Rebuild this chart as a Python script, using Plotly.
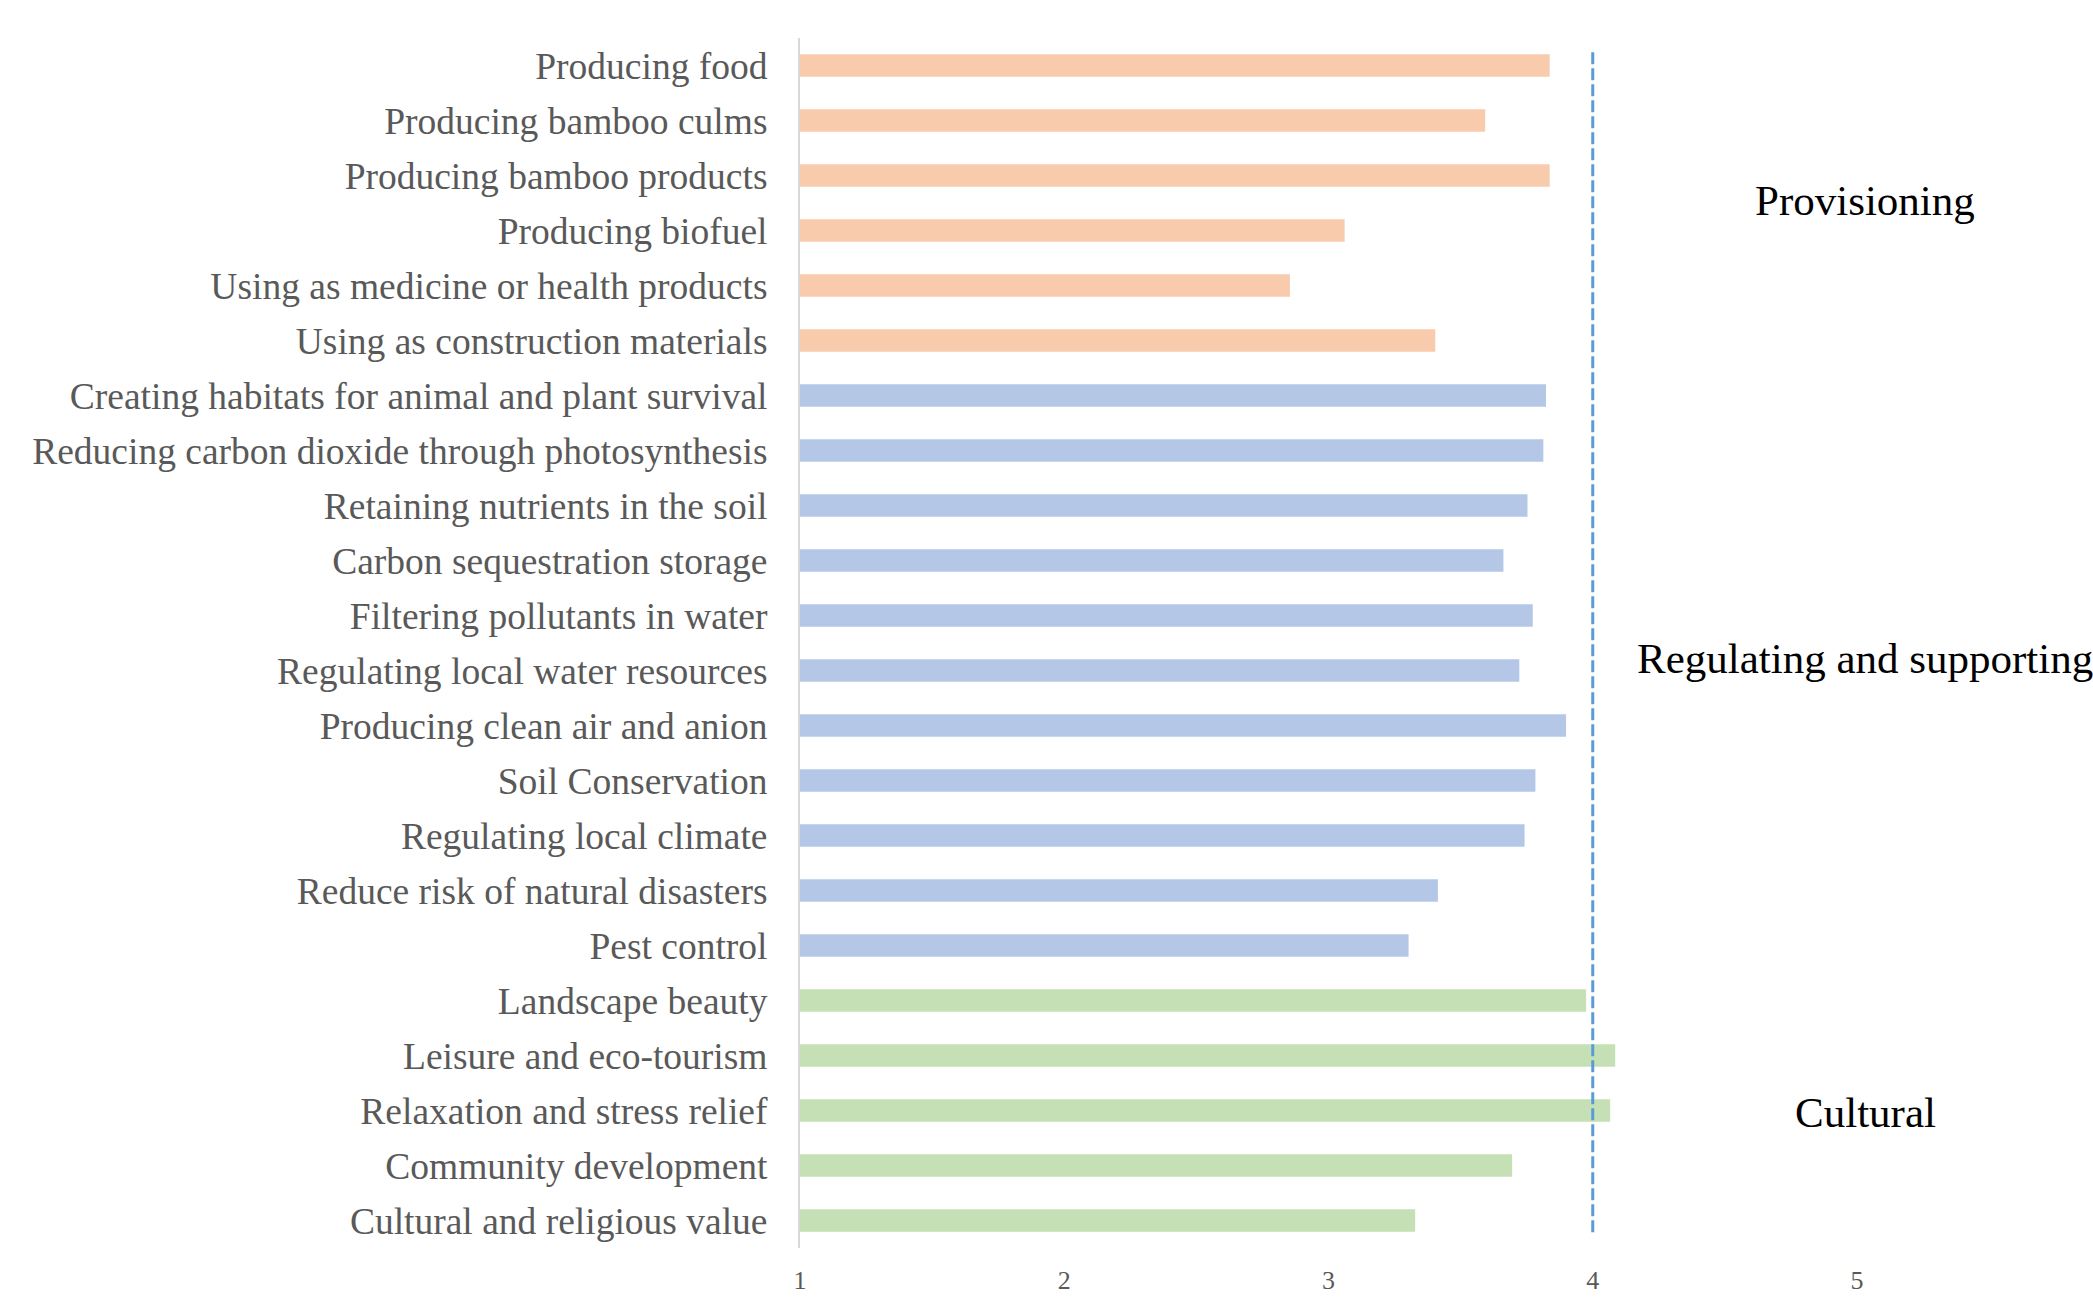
import plotly.graph_objects as go

# Ecosystem service items, top to bottom, with their mean scores
provisioning = [
    "Producing food",
    "Producing bamboo culms",
    "Producing bamboo products",
    "Producing biofuel",
    "Using as medicine or health products",
    "Using as construction materials",
]
provisioning_scores = [3.837, 3.593, 3.837, 3.061, 2.854, 3.404]

regulating = [
    "Creating habitats for animal and plant survival",
    "Reducing carbon dioxide through photosynthesis",
    "Retaining nutrients in the soil",
    "Carbon sequestration storage",
    "Filtering pollutants in water",
    "Regulating local water resources",
    "Producing clean air and anion",
    "Soil Conservation",
    "Regulating local climate",
    "Reduce risk of natural disasters",
    "Pest control",
]
regulating_scores = [3.823, 3.813, 3.753, 3.662, 3.773, 3.722, 3.899, 3.783, 3.742, 3.414, 3.303]

cultural = [
    "Landscape beauty",
    "Leisure and eco-tourism",
    "Relaxation and stress relief",
    "Community development",
    "Cultural and religious value",
]
cultural_scores = [3.975, 4.085, 4.066, 3.695, 3.328]

group_names = ["Provisioning", "Regulating and supporting", "Cultural"]
group_colors = ["#F8CBAD", "#B4C7E7", "#C5E0B4"]

x_ticks = [1, 2, 3, 4, 5]
reference_score = 4

categories = provisioning + regulating + cultural
serif = "Liberation Serif, Times New Roman, serif"

fig = go.Figure()
for names, scores, color in zip(
    [provisioning, regulating, cultural],
    [provisioning_scores, regulating_scores, cultural_scores],
    group_colors,
):
    fig.add_trace(go.Bar(
        y=names,
        x=[s - 1 for s in scores],
        base=1,
        orientation="h",
        marker=dict(color=color, line=dict(width=0)),
        showlegend=False,
        hoverinfo="y+text",
        text=[f"{s:.2f}" for s in scores],
        textposition="none",
    ))

# Dashed reference line at score 4
fig.add_shape(
    type="line", xref="x", yref="paper",
    x0=reference_score, x1=reference_score, y0=0.013, y1=0.9905,
    line=dict(color="#5B9BD5", width=3, dash="12px,4px"),
)

# Group labels on the right side
group_label_y = [0.8655, 0.4868, 0.1116]
for name, gy in zip(group_names, group_label_y):
    fig.add_annotation(
        text=name, xref="paper", yref="paper", x=1.0076, y=gy,
        xanchor="center", yanchor="middle", showarrow=False,
        font=dict(family=serif, size=43, color="#000000"),
    )

fig.update_layout(
    width=2093, height=1303,
    margin=dict(l=800, r=236, t=38, b=55, pad=0, autoexpand=False),
    plot_bgcolor="white", paper_bgcolor="white",
    bargap=0.587,
    barmode="overlay",
    xaxis=dict(
        range=[1, 5], tickvals=x_ticks, ticktext=[str(t) for t in x_ticks],
        showgrid=False, zeroline=False, showline=False, automargin=False,
        ticks="", ticklabelstandoff=14,
        tickfont=dict(family=serif, size=26, color="#595959"),
    ),
    yaxis=dict(
        categoryorder="array", categoryarray=categories,
        autorange="reversed", automargin=False,
        showgrid=False, zeroline=False,
        showline=True, linecolor="#D9D9D9", linewidth=2,
        ticks="", ticklabelstandoff=23,
        tickfont=dict(family=serif, size=37.5, color="#595959"),
    ),
)

fig.write_html("out.html")
